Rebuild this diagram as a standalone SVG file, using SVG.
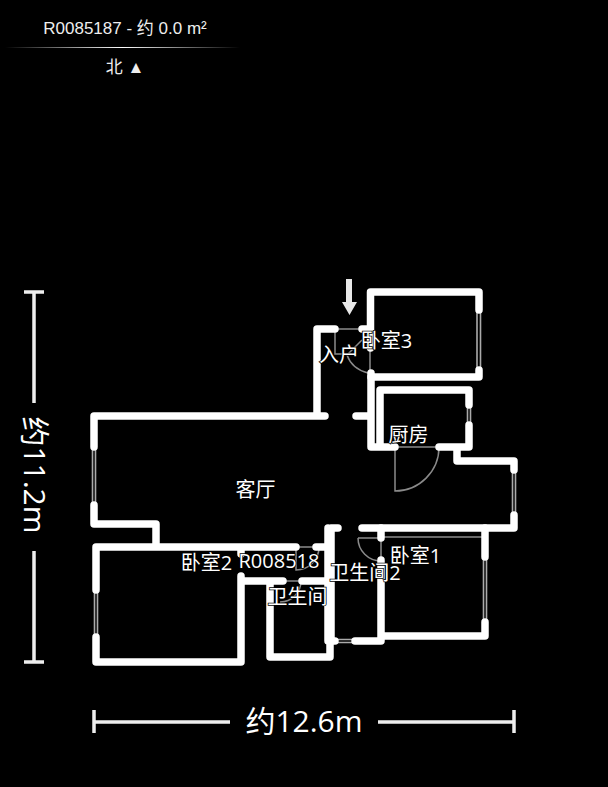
<svg xmlns="http://www.w3.org/2000/svg" width="608" height="787" viewBox="0 0 608 787">
<style>
.bg{fill:#000}
.wall{fill:none;stroke:#fff;stroke-width:7.500;stroke-linecap:round;stroke-linejoin:round}
.thin{fill:none;stroke:#8a8a8a;stroke-width:1.500}
.win{fill:none;stroke:#aaa;stroke-width:1.600}
.scale{fill:none;stroke:#eee;stroke-width:3.500}
.lbl{font-family:"Open Sans","Noto Sans CJK SC",sans-serif;font-size:20px;fill:#fff;text-anchor:middle;stroke:#000;stroke-width:1.500;paint-order:stroke}
.dim{font-family:"Open Sans","Noto Sans CJK SC",sans-serif;font-size:30px;fill:#fff;text-anchor:middle}
.hdr{font-family:"Liberation Sans","Noto Sans CJK SC",sans-serif;font-size:17px;fill:#eee;text-anchor:middle}
</style>
<defs>
<linearGradient id="fade" x1="0" x2="1" y1="0" y2="0">
<stop offset="0" stop-color="#fff" stop-opacity="0"/>
<stop offset="0.5" stop-color="#fff"/>
<stop offset="1" stop-color="#fff" stop-opacity="0"/>
</linearGradient>
</defs>
<rect class="bg" width="608" height="787"/>
<g id="header">
<text class="hdr" x="125" y="34">R0085187 - 约 0.0 m²</text>
<rect x="5" y="47" width="235" height="1" fill="url(#fade)"/>
<text class="hdr" x="125" y="73">北 ▲</text>
</g>
<g id="thin-lines">
<path class="thin" d="M335 329H362M370 348V373M335 329V354H347M347 355Q352 369 368 373M348 354L362 340"/>
<path class="thin" d="M396 447H438M395 447V491A44 44 0 0 0 439 447"/>
<path class="thin" d="M381 537H484M358 538H381V561M358 538A23 23 0 0 0 381 561"/>
<path class="thin" d="M296 547H316M296 547V570A23 23 0 0 0 319 547"/>
<path class="thin" d="M283 581H301M301 581A21 21 0 0 1 280 602"/>
<path class="win" d="M92.500 447V505M95.500 447V505M94.500 590V637M97.500 590V637M477 310V370M480.500 310V370M467.500 405V425M470.500 405V425M512.500 470V512M515.500 470V512M483.500 557V620M486.500 557V620M335 639.500H355M335 642.500H355"/>
</g>
<g id="walls">
<path class="wall" d="M370.500 348V292H479V310M479 370V377H371"/>
<path class="wall" d="M371 373V447H395M380 447V390H469V405M469 425V447H439M457 447V461H514V470M514 515V528H362"/>
<path class="wall" d="M485 528V557M485 622V636H381M381 528V538M381 560V641H355"/>
<path class="wall" d="M335 329H317V416H94V447M325 416H94M356 416H370M362 329H370"/>
<path class="wall" d="M94 505V524H156V547M96 590V547H296M316 547H329M96 637V662H241V576M241 547V554"/>
<path class="wall" d="M338 528H331V641H335M328 528V641M243 581H283M302 581H329M330 645V657H270V581"/>
</g>
<g id="labels">
<text class="lbl" x="255.500" y="497">客厅</text>
<text class="lbl" x="386.500" y="348">卧室3</text>
<text class="lbl" x="339" y="362">入户</text>
<text class="lbl" x="408.500" y="442">厨房</text>
<text class="lbl" x="206.500" y="570">卧室2</text>
<text class="lbl" x="279" y="568">R008518</text>
<text class="lbl" x="297.500" y="604">卫生间</text>
<text class="lbl" x="365" y="580">卫生间2</text>
<text class="lbl" x="415.500" y="563">卧室1</text>
</g>
<g id="entry-arrow">
<path fill="#e8e8e8" d="M346 279H352V302H357L349.500 315L342 302H346Z"/>
</g>
<g id="dimensions">
<path class="scale" d="M24 292H44M34 292V403M34 551V662M24 662H44"/>
<path class="scale" d="M94 710V733M94 722H230M378 722H514M514 710V733"/>
<text class="dim" transform="translate(24 475) rotate(90)" x="0" y="0">约11.2m</text>
<text class="dim" x="304" y="732">约12.6m</text>
</g>
</svg>
